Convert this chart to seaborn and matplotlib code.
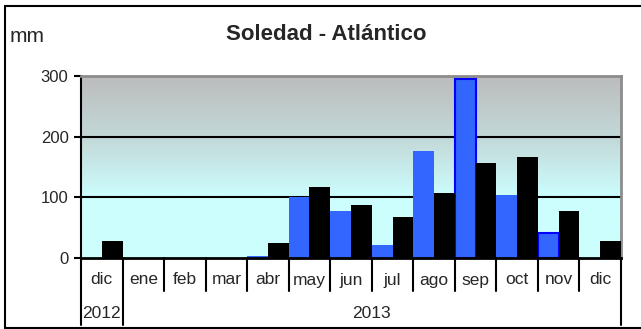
import numpy as np
import pandas as pd
import matplotlib
matplotlib.use("Agg")
import matplotlib.pyplot as plt
from matplotlib.colors import LinearSegmentedColormap
from matplotlib.lines import Line2D
import seaborn as sns

# Monthly rainfall (mm), Soledad - Atlántico, Dec 2012 to Dec 2013
months = ["dic", "ene", "feb", "mar", "abr", "may", "jun", "jul", "ago", "sep", "oct", "nov", "dic"]
years = ["2012", "2013"]
year_span = [1, 12]  # number of months under each year label
blue_series = [0, 0, 0, 0, 4, 100, 77, 21, 176, 295, 104, 41, 0]
black_series = [28, 0, 0, 0, 25, 117, 87, 68, 107, 157, 167, 77, 28]
outlined_blue = ["sep", "nov"]
y_ticks = [0, 100, 200, 300]

sns.set_theme(style="white")
plt.rcParams["font.family"] = ["Liberation Sans", "DejaVu Sans"]

W, H = 641, 329
fig = plt.figure(figsize=(W / 100, H / 100), dpi=100)
x0, x1, yb, yt = 81, 621, 258, 76
ax = fig.add_axes([x0 / W, (H - yb) / H, (x1 - x0) / W, (yb - yt) / H])

n = len(months)
keys = [f"{i}" for i in range(n)]
df = pd.DataFrame({
    "mes": keys * 2,
    "serie": ["a"] * n + ["b"] * n,
    "mm": blue_series + black_series,
})
sns.barplot(data=df, x="mes", y="mm", hue="serie", order=keys, hue_order=["a", "b"],
            palette=["#3366ff", "#000000"], width=1.0, dodge=True, ax=ax,
            legend=False, linewidth=0, saturation=1, zorder=3)

# outline selected blue bars
blue_patches = ax.patches[:n]
for i, p in enumerate(blue_patches):
    if months[i] in outlined_blue and i > 0:
        p.set_edgecolor("#0000ff")
        p.set_linewidth(1.5)

ax.set_xlim(-0.5, n - 0.5)
ax.set_ylim(0, 300)

# background gradient: grey at top fading to pale cyan, flat below 100
grad = LinearSegmentedColormap.from_list("bg", [(0, "#ccfefe"), (0.33, "#ccfefe"),
                                                (0.66, "#c3d8d8"), (1.0, "#bcbcbc")])
vals = np.linspace(0, 1, 300).reshape(-1, 1)
ax.imshow(vals, cmap=grad, origin="lower", aspect="auto",
          extent=(-0.5, n - 0.5, 0, 300), zorder=0, interpolation="bilinear")

for v in [100, 200]:
    ax.axhline(v, color="black", lw=1.5, zorder=2)

ax.set_xticks([])
ax.set_xlabel("")
ax.set_ylabel("")
ax.set_yticks(y_ticks)
ax.set_yticklabels([str(t) for t in y_ticks], fontsize=12)
ax.tick_params(axis="y", left=True, length=5, width=1.5, color="black", pad=4)
for s in ["top", "right"]:
    ax.spines[s].set_color("#8c8c8c")
    ax.spines[s].set_linewidth(2)
ax.spines["left"].set_color("black")
ax.spines["left"].set_linewidth(1.5)
ax.spines["bottom"].set_color("black")
ax.spines["bottom"].set_linewidth(2)
ax.spines["bottom"].set_zorder(5)

# two-level category axis
def fy(py):
    return (H - py) / H

def fx(px):
    return px / W

cw = (x1 - x0) / n
bounds = [x0 + cw * i for i in range(n + 1)]
year_edges = np.cumsum([0] + year_span)
for i, b in enumerate(bounds):
    long_line = i in year_edges
    fig.add_artist(Line2D([fx(b), fx(b)], [fy(yb), fy(325 if long_line else 291)],
                          color="black", lw=1.5))
for i, m in enumerate(months):
    fig.text(fx(x0 + cw * (i + 0.5)), fy(280), m, ha="center", va="center", fontsize=12.5)
for k, yr in enumerate(years):
    a, b = bounds[year_edges[k]], bounds[year_edges[k + 1]]
    fig.text(fx((a + b) / 2), fy(313), yr, ha="center", va="center", fontsize=12.5)

fig.text(fx(326), fy(34), "Soledad - Atlántico", ha="center", va="center",
         fontsize=16, fontweight="bold")
fig.text(fx(10), fy(36), "mm", ha="left", va="center", fontsize=15)

# chart frame (left, top and bottom edges)
frame = dict(color="black", lw=1.5)
fig.add_artist(Line2D([fx(5), fx(5)], [fy(6), fy(328)], **frame))
fig.add_artist(Line2D([fx(5), 1.0], [fy(6), fy(6)], **frame))
fig.add_artist(Line2D([fx(5), 1.0], [fy(328), fy(328)], **frame))

fig.savefig("out.png", dpi=100)
